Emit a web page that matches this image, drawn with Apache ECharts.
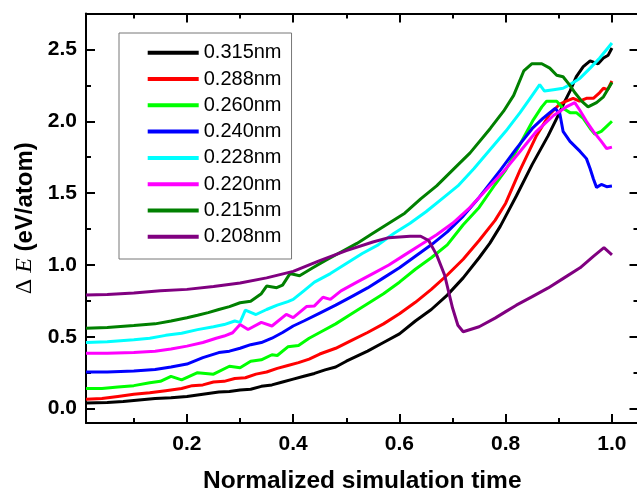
<!DOCTYPE html>
<html>
<head>
<meta charset="utf-8">
<script src="https://cdn.jsdelivr.net/npm/echarts@6/dist/echarts.min.js"></script>
<style>
  html, body { margin: 0; padding: 0; background: #ffffff; }
  #chart { width: 637px; height: 493px; }
</style>
</head>
<body>
<div id="chart"></div>
<script>
// Interlayer spacing of each curve (legend entries)
const seriesNames = ['0.315nm', '0.288nm', '0.260nm', '0.240nm', '0.228nm', '0.220nm', '0.215nm', '0.208nm'];
const seriesColors = ['#000000', '#ff0000', '#00ff00', '#0000ff', '#00ffff', '#ff00ff', '#008000', '#800080'];

// Energy change ΔE (eV/atom) against normalized simulation time: [time, ΔE]
const d315 = [[0.01,0.04],[0.05,0.042],[0.08,0.05],[0.11,0.06],[0.14,0.07],[0.17,0.075],[0.20,0.085],[0.23,0.1],[0.26,0.115],[0.28,0.12],[0.30,0.13],[0.32,0.135],[0.34,0.155],[0.36,0.165],[0.38,0.185],[0.40,0.205],[0.42,0.225],[0.44,0.245],[0.46,0.27],[0.48,0.29],[0.50,0.33],[0.52,0.365],[0.54,0.4],[0.57,0.46],[0.60,0.52],[0.63,0.61],[0.66,0.69],[0.69,0.79],[0.72,0.91],[0.75,1.05],[0.77,1.15],[0.79,1.27],[0.80,1.34],[0.82,1.48],[0.85,1.70],[0.88,1.90],[0.90,2.05],[0.91,2.13],[0.921,2.21],[0.933,2.31],[0.946,2.38],[0.959,2.42],[0.974,2.40],[0.984,2.44],[0.993,2.46],[1.0,2.51]];
const d288 = [[0.01,0.065],[0.04,0.07],[0.07,0.085],[0.10,0.1],[0.13,0.11],[0.16,0.125],[0.19,0.14],[0.21,0.16],[0.23,0.165],[0.25,0.185],[0.27,0.19],[0.29,0.21],[0.31,0.215],[0.33,0.24],[0.35,0.255],[0.37,0.28],[0.39,0.3],[0.41,0.32],[0.43,0.345],[0.45,0.38],[0.48,0.42],[0.51,0.475],[0.54,0.53],[0.57,0.59],[0.60,0.66],[0.63,0.74],[0.66,0.83],[0.69,0.93],[0.72,1.04],[0.75,1.17],[0.78,1.31],[0.80,1.43],[0.827,1.66],[0.858,1.9],[0.883,2.05],[0.902,2.12],[0.914,2.14],[0.927,2.16],[0.939,2.14],[0.952,2.16],[0.965,2.16],[0.977,2.2],[0.984,2.23],[0.992,2.22],[1.0,2.28]];
const d260 = [[0.01,0.14],[0.04,0.14],[0.07,0.15],[0.10,0.16],[0.13,0.18],[0.15,0.19],[0.17,0.225],[0.19,0.2],[0.22,0.25],[0.25,0.24],[0.28,0.295],[0.30,0.285],[0.32,0.33],[0.34,0.34],[0.36,0.375],[0.37,0.37],[0.39,0.43],[0.41,0.44],[0.43,0.49],[0.45,0.53],[0.48,0.59],[0.51,0.66],[0.54,0.73],[0.57,0.8],[0.60,0.88],[0.63,0.97],[0.66,1.05],[0.69,1.14],[0.72,1.28],[0.75,1.40],[0.78,1.56],[0.80,1.66],[0.827,1.84],[0.852,2.01],[0.868,2.10],[0.877,2.14],[0.896,2.14],[0.908,2.09],[0.921,2.06],[0.933,2.06],[0.946,2.02],[0.959,1.95],[0.968,1.91],[0.98,1.93],[0.99,1.965],[1.0,2.0]];
const d240 = [[0.01,0.255],[0.05,0.255],[0.10,0.262],[0.14,0.272],[0.17,0.29],[0.20,0.31],[0.23,0.355],[0.26,0.39],[0.28,0.4],[0.30,0.42],[0.32,0.445],[0.34,0.46],[0.36,0.49],[0.38,0.53],[0.40,0.575],[0.42,0.61],[0.45,0.665],[0.48,0.72],[0.51,0.78],[0.54,0.84],[0.57,0.91],[0.60,0.98],[0.63,1.06],[0.66,1.14],[0.69,1.23],[0.72,1.34],[0.75,1.47],[0.79,1.66],[0.82,1.81],[0.85,1.95],[0.87,2.02],[0.883,2.06],[0.893,2.09],[0.902,2.05],[0.908,1.93],[0.921,1.86],[0.94,1.79],[0.952,1.74],[0.959,1.67],[0.965,1.60],[0.971,1.54],[0.98,1.56],[0.99,1.545],[1.0,1.55]];
const d228 = [[0.01,0.46],[0.05,0.465],[0.10,0.48],[0.13,0.49],[0.16,0.51],[0.19,0.525],[0.22,0.55],[0.25,0.57],[0.27,0.585],[0.29,0.61],[0.30,0.6],[0.31,0.685],[0.33,0.655],[0.35,0.69],[0.37,0.72],[0.39,0.745],[0.40,0.76],[0.42,0.82],[0.44,0.88],[0.47,0.94],[0.50,1.01],[0.53,1.08],[0.56,1.14],[0.59,1.22],[0.62,1.29],[0.65,1.37],[0.68,1.46],[0.71,1.55],[0.74,1.67],[0.77,1.80],[0.80,1.93],[0.827,2.06],[0.846,2.16],[0.864,2.255],[0.873,2.21],[0.89,2.22],[0.908,2.23],[0.921,2.255],[0.94,2.30],[0.959,2.37],[0.977,2.44],[1.0,2.545]];
const d220 = [[0.01,0.385],[0.05,0.385],[0.10,0.39],[0.14,0.40],[0.17,0.415],[0.20,0.435],[0.23,0.46],[0.255,0.49],[0.27,0.505],[0.286,0.528],[0.30,0.586],[0.315,0.551],[0.34,0.6],[0.36,0.575],[0.387,0.656],[0.40,0.633],[0.425,0.71],[0.44,0.715],[0.456,0.775],[0.47,0.76],[0.49,0.82],[0.52,0.88],[0.55,0.94],[0.58,1.0],[0.61,1.07],[0.64,1.14],[0.67,1.21],[0.70,1.29],[0.73,1.39],[0.76,1.51],[0.796,1.65],[0.827,1.79],[0.858,1.93],[0.89,2.04],[0.914,2.10],[0.93,2.13],[0.939,2.08],[0.952,2.0],[0.965,1.93],[0.98,1.86],[0.99,1.81],[1.0,1.82]];
const d215 = [[0.01,0.56],[0.05,0.565],[0.10,0.578],[0.14,0.59],[0.17,0.61],[0.20,0.633],[0.22,0.65],[0.24,0.668],[0.26,0.69],[0.28,0.71],[0.30,0.737],[0.32,0.748],[0.34,0.8],[0.35,0.853],[0.369,0.842],[0.38,0.86],[0.394,0.94],[0.412,0.925],[0.437,0.98],[0.46,1.03],[0.49,1.09],[0.52,1.15],[0.55,1.22],[0.58,1.29],[0.61,1.36],[0.64,1.46],[0.67,1.55],[0.70,1.66],[0.733,1.78],[0.771,1.95],[0.796,2.07],[0.815,2.18],[0.834,2.35],[0.849,2.4],[0.868,2.4],[0.883,2.37],[0.896,2.32],[0.908,2.31],[0.921,2.25],[0.93,2.20],[0.943,2.14],[0.955,2.10],[0.971,2.13],[0.984,2.17],[1.0,2.27]];
const d208 = [[0.01,0.79],[0.05,0.795],[0.10,0.805],[0.15,0.82],[0.20,0.83],[0.25,0.85],[0.30,0.875],[0.35,0.91],[0.40,0.955],[0.45,1.03],[0.50,1.10],[0.55,1.16],[0.58,1.19],[0.62,1.20],[0.64,1.20],[0.655,1.17],[0.67,1.07],[0.685,0.93],[0.70,0.70],[0.71,0.58],[0.72,0.535],[0.75,0.57],[0.78,0.63],[0.80,0.675],[0.82,0.72],[0.85,0.78],[0.88,0.84],[0.91,0.91],[0.94,0.98],[0.965,1.06],[0.985,1.12],[1.0,1.07]];
const seriesData = [d315, d288, d260, d240, d228, d220, d215, d208];

// Axis tick positions and labels
const xLabelValues = [0.2, 0.4, 0.6, 0.8, 1.0];
const xMinorTicks = [0.1, 0.3, 0.5, 0.7, 0.9];
const yLabelValues = [0, 0.5, 1.0, 1.5, 2.0, 2.5];
const yMinorTicks = [0.25, 0.75, 1.25, 1.75, 2.25];
const xExtent = [0.01, 1.05];
const yExtent = [-0.1, 2.75];

const sans = 'Liberation Sans, Arial, sans-serif';
const serif = 'Liberation Serif, Times New Roman, serif';

function frameAxis(position, extent, ticks, tickLen, withLine, label) {
  return {
    type: 'value',
    position: position,
    min: extent[0],
    max: extent[1],
    axisLine: { show: withLine, onZero: false, lineStyle: { color: '#000', width: 2 } },
    axisTick: { show: true, inside: true, length: tickLen, customValues: ticks,
                lineStyle: { color: '#000', width: 2 } },
    axisLabel: label || { show: false },
    splitLine: { show: false },
    minorTick: { show: false }
  };
}

const xLabel = {
  show: true, customValues: xLabelValues, margin: 11,
  formatter: v => v.toFixed(1),
  fontFamily: sans, fontWeight: 'bold', fontSize: 21, color: '#000'
};
const yLabel = {
  show: true, customValues: yLabelValues, margin: 9,
  formatter: v => v.toFixed(1),
  fontFamily: sans, fontWeight: 'bold', fontSize: 21, color: '#000'
};

const xMain = Object.assign(frameAxis('bottom', xExtent, xLabelValues, 9, true, xLabel), {
  name: 'Normalized simulation time',
  nameLocation: 'middle',
  nameGap: 46,
  nameTextStyle: { fontFamily: sans, fontWeight: 'bold', fontSize: 24.5, color: '#000' }
});
const yMain = Object.assign(frameAxis('left', yExtent, yLabelValues, 9, true, yLabel), {
  name: '{d|Δ }{e|E}{n| (eV/atom)}',
  nameLocation: 'middle',
  nameGap: 47,
  nameRotate: 90,
  nameTextStyle: {
    color: '#000',
    rich: {
      d: { fontFamily: serif, fontSize: 24, color: '#000' },
      e: { fontFamily: serif, fontStyle: 'italic', fontSize: 24, color: '#000' },
      n: { fontFamily: sans, fontWeight: 'bold', fontSize: 24, color: '#000' }
    }
  }
});

const chart = echarts.init(document.getElementById('chart'), null, { renderer: 'canvas' });

chart.setOption({
  animation: false,
  backgroundColor: '#ffffff',
  grid: { left: 86, top: 13.5, width: 552.5, height: 409.5, containLabel: false, outerBoundsMode: 'none' },
  xAxis: [
    xMain,
    frameAxis('bottom', xExtent, xMinorTicks, 5, false),
    frameAxis('top', xExtent, xLabelValues, 9, true),
    frameAxis('top', xExtent, xMinorTicks, 5, false)
  ],
  yAxis: [
    yMain,
    frameAxis('left', yExtent, yMinorTicks, 5, false),
    frameAxis('right', yExtent, yLabelValues, 9, true),
    frameAxis('right', yExtent, yMinorTicks, 5, false)
  ],
  legend: {
    orient: 'vertical',
    left: 119,
    top: 33,
    padding: [9.7, 10, 12.2, 28.7],
    icon: 'rect',
    itemWidth: 51,
    itemHeight: 4,
    itemGap: 6.3,
    borderColor: '#777777',
    borderWidth: 1,
    backgroundColor: '#ffffff',
    textStyle: { fontFamily: sans, fontSize: 20, lineHeight: 20, color: '#000' },
    data: seriesNames
  },
  series: seriesNames.map((name, i) => ({
    name: name,
    type: 'line',
    xAxisIndex: 0,
    yAxisIndex: 0,
    data: seriesData[i],
    symbol: 'none',
    smooth: false,
    color: seriesColors[i],
    lineStyle: { color: seriesColors[i], width: 3 },
    emphasis: { disabled: true }
  }))
});
</script>
</body>
</html>
